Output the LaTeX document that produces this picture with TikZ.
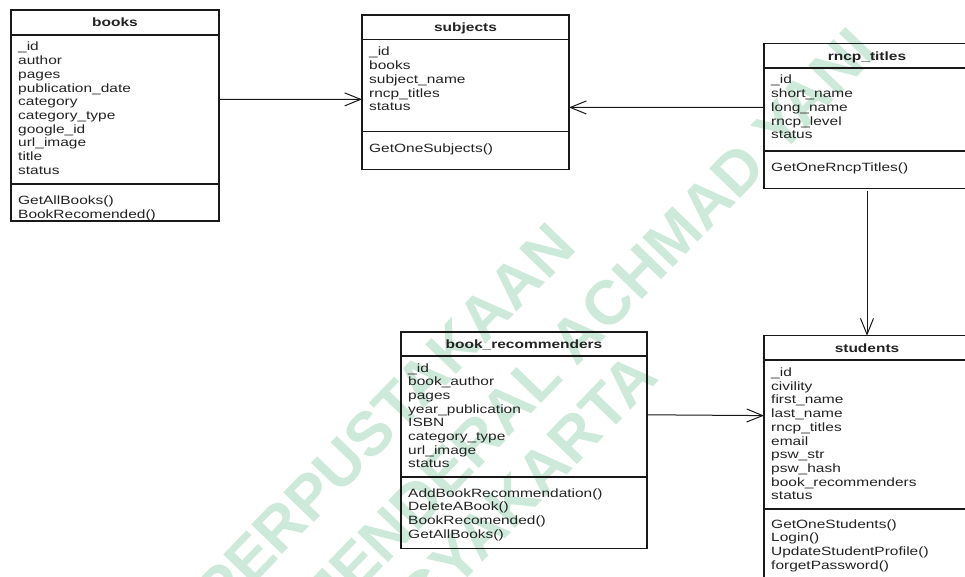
\documentclass[tikz,border=0pt]{standalone}
\usepackage{fontspec}
\setmainfont[FakeStretch=1.29]{Liberation Sans}
\newfontfamily\markfont{Liberation Sans}
\usetikzlibrary{arrows.meta}

\definecolor{inkline}{RGB}{25,25,25}
\definecolor{inktext}{RGB}{35,35,35}
\definecolor{markgreen}{RGB}{204,233,217}

\tikzset{
  frame/.style={draw=inkline, line width=1.1pt},
  classbox/.style={frame, anchor=north west, inner sep=0pt, outer sep=0pt},
  member/.style={anchor=base west, inner sep=0pt, text=inktext,
    font=\fontsize{12}{13.7}\selectfont},
  classtitle/.style={anchor=base, inner sep=0pt, text=inktext,
    font=\fontsize{12}{13.7}\selectfont\bfseries},
  assoc/.style={draw=inkline, line width=1pt,
    -{Straight Barb[length=16pt,width=13pt,line width=1pt]}},
  watermark/.style={rotate=46, anchor=east, inner sep=0pt, text=markgreen,
    font=\markfont\bfseries\fontsize{62}{62}\selectfont}
}

% one text line per member, #1 prefix, #2 left x, #3 first baseline, #4 list
\newcommand\classlines[4]{%
  \foreach \txt [count=\i from 0] in {#4}
    \node[member] (#1-\i) at (#2, {#3+13.7*\i}) {\txt};}

% horizontal divider inside a class box, #1 box, #2 offset from top
\newcommand\classrule[2]{%
  \draw[frame] ([yshift=-#2]#1.north west) -- ([yshift=-#2]#1.north east);}

\begin{document}
\begin{tikzpicture}[x=1pt, y=-1pt]
\useasboundingbox (0,0) rectangle (965,577);
\clip (0,0) rectangle (965,577);
\fill[white] (0,0) rectangle (965,577);

% library watermark, three diagonal lines
\node[watermark] (mark-1) at (563,234) {PERPUSTAKAAN};
\node[watermark] (mark-2) at (864,39) {JENDERAL ACHMAD YANI};
\node[watermark] (mark-3) at (645,364) {YOGYAKARTA};

% books
\node[classbox, minimum width=208pt, minimum height=211pt] (books) at (11,10) {};
\classrule{books}{25pt}
\classrule{books}{174pt}
\node[classtitle] (books-title) at (115,26.8) {books};
\classlines{books-a}{18}{51}{\_id,author,pages,publication\_date,category,category\_type,google\_id,url\_image,title,status}
\classlines{books-m}{18}{204.6}{GetAllBooks(),BookRecomended()}

% subjects
\node[classbox, minimum width=207pt, minimum height=154.3pt] (subjects) at (362,15) {};
\classrule{subjects}{24.4pt}
\classrule{subjects}{116.8pt}
\node[classtitle] (subjects-title) at (465.5,31.5) {subjects};
\classlines{subjects-a}{369}{56}{\_id,books,subject\_name,rncp\_titles,status}
\classlines{subjects-m}{369}{152.3}{GetOneSubjects()}

% rncp_titles
\node[classbox, minimum width=206pt, minimum height=144.6pt] (rncp) at (764,43.8) {};
\classrule{rncp}{24.2pt}
\classrule{rncp}{107.2pt}
\node[classtitle] (rncp-title) at (867,60.2) {rncp\_titles};
\classlines{rncp-a}{771}{84}{\_id,short\_name,long\_name,rncp\_level,status}
\classlines{rncp-m}{771}{171.5}{GetOneRncpTitles()}

% book_recommenders
\node[classbox, minimum width=246pt, minimum height=216.4pt] (bookrec) at (401,332) {};
\classrule{bookrec}{24pt}
\classrule{bookrec}{145pt}
\node[classtitle] (bookrec-title) at (524,348.3) {book\_recommenders};
\classlines{bookrec-a}{408}{372}{\_id,book\_author,pages,year\_publication,ISBN,category\_type,url\_image,status}
\classlines{bookrec-m}{408}{497}{AddBookRecommendation(),DeleteABook(),BookRecomended(),GetAllBooks()}

% students
\node[classbox, minimum width=206pt, minimum height=250pt] (students) at (764,335.7) {};
\classrule{students}{24.3pt}
\classrule{students}{173.3pt}
\node[classtitle] (students-title) at (867,352.2) {students};
\classlines{students-a}{771}{376.5}{\_id,civility,first\_name,last\_name,rncp\_titles,email,psw\_str,psw\_hash,book\_recommenders,status}
\classlines{students-m}{771}{528}{GetOneStudents(),Login(),UpdateStudentProfile(),forgetPassword()}

% associations
\draw[assoc] ([yshift=16pt]books.east) -- ([yshift=-7.2pt]subjects.west);
\draw[assoc] ([yshift=8.6pt]rncp.east -| rncp.west) -- ([yshift=-15.3pt]subjects.east);
\draw[assoc, shorten <=2.2pt] (rncp.south) -- (students.north);
\draw[assoc] ([yshift=25.4pt]bookrec.east) -- ([yshift=45.1pt]students.west);
\end{tikzpicture}
\end{document}
